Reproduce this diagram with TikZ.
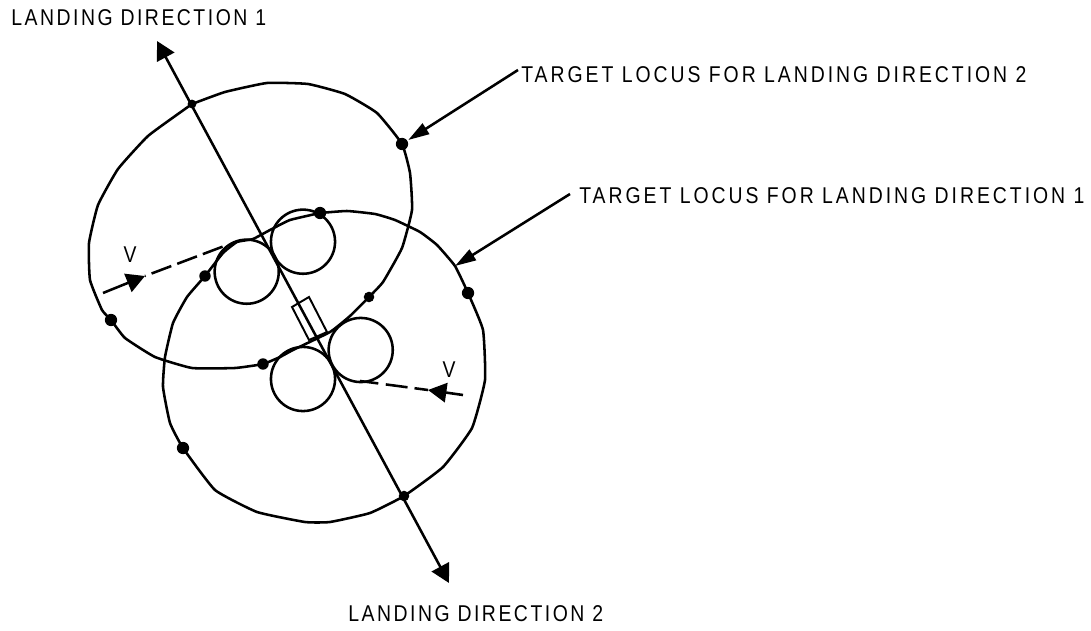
\documentclass[tikz,border=0pt]{standalone}
\usepackage{fontspec}
\setmainfont{Liberation Sans}[LetterSpace=11,FakeStretch=0.85]
\usetikzlibrary{arrows.meta}
\tikzset{
  lbl/.style={anchor=west,inner sep=0pt,font=\fontsize{13}{15}\selectfont},
  lblwide/.style={lbl,font=\fontsize{13}{15}\selectfont\addfontfeature{LetterSpace=13}},
  dot/.style={circle,fill=black,inner sep=0pt,minimum size=7pt},
  wheel/.style={circle,draw,inner sep=0pt,minimum size=36.5pt},
  locus/.style={smooth,tension=0.25},
  leader/.style={-{Triangle[length=12pt,width=7pt]}},
}
\begin{document}
\begin{tikzpicture}[x=0.02cm,y=-0.02cm,line width=1.45pt,>={Triangle[length=10.5pt,width=11pt]}]
        \useasboundingbox (0,0) rectangle (1091,631);
        % labels
        \node[lbl] (dir1) at (10,18) {LANDING DIRECTION 1};
        \node[lbl] (dir2) at (347,614) {LANDING DIRECTION 2};
        \node[lblwide] (locus2) at (520,75) {TARGET LOCUS FOR LANDING DIRECTION 2};
        \node[lblwide] (locus1) at (578,196) {TARGET LOCUS FOR LANDING DIRECTION 1};
        \node[lbl,anchor=center] (v1) at (130,255) {V};
        \node[lbl,anchor=center] (v2) at (449,370) {V};
        % runway axis
        \coordinate (tipa) at (157,41);
        \coordinate (tipb) at (449,583);
        \draw[<->] (tipa) -- (tipb);
        \draw[line width=1.1pt] (292,307) -- (309,297) -- (327,332) -- (309,340) -- cycle;
        % loci
        \draw plot[locus] coordinates {(192,104) (225,92) (267,83) (308,84) (345,94) (377,113) (402,144) (410,173) (412,210) (402,248) (383,282) (369,297) (350,316) (330,332) (293,350) (280,357) (263,364) (235,368) (192,368) (155,357) (125,338) (111,320) (102,310) (90,280) (89,243) (98,205) (118,169) (148,136) (185,109) (192,104)};
        \draw plot[locus] coordinates {(320,213) (347,211) (375,214) (395,220) (420,232) (437,245) (455,266) (468,293) (483,330) (485,380) (472,428) (443,467) (404,496) (370,513) (330,522) (305,522) (257,512) (215,490) (183,448) (170,423) (163,387) (165,357) (173,323) (187,297) (205,276) (223,253) (237,242) (253,239) (270,230) (290,220) (320,213)};
        % turning circles
        \node[wheel] (c1) at (246.7,271.7) {};
        \node[wheel] (c2) at (303,241.7) {};
        \node[wheel] (c3) at (360.7,350) {};
        \node[wheel] (c4) at (303,379) {};
        % points on the loci
        \node[dot,minimum size=5pt] (p1) at (192,104) {};
        \node[dot] (p2) at (402,144) {};
        \node[dot] (p3) at (320,213) {};
        \node[dot,minimum size=6.5pt] (p4) at (205,276) {};
        \node[dot] (p5) at (111,320) {};
        \node[dot,minimum size=6pt] (p6) at (369,297) {};
        \node[dot] (p7) at (468,293) {};
        \node[dot,minimum size=6.5pt] (p8) at (263,364) {};
        \node[dot] (p9) at (183,448) {};
        \node[dot,minimum size=6pt] (p10) at (404,496) {};
        % leaders
        \coordinate (foot2) at (518,70);
        \coordinate (foot1) at (570,194);
        \coordinate (hit1) at (455,266);
        \draw[leader] (foot2) -- (p2);
        \draw[leader] (foot1) -- (hit1);
        % approach paths
        \coordinate (ina) at (103,293);
        \coordinate (inb) at (145,276);
        \coordinate (inc) at (227,245);
        \coordinate (outa) at (463,395);
        \coordinate (outb) at (428,390);
        \coordinate (outc) at (360,381);
        \draw[->] (ina) -- (inb);
        \draw[dash pattern=on 12pt off 3.6pt,dash phase=-4pt] (inb) -- (inc);
        \draw[->] (outa) -- (outb);
        \draw[dash pattern=on 10.5pt off 4.3pt on 12.5pt off 4pt on 8pt off 9pt] (outc) -- (outb);
\end{tikzpicture}
\end{document}
